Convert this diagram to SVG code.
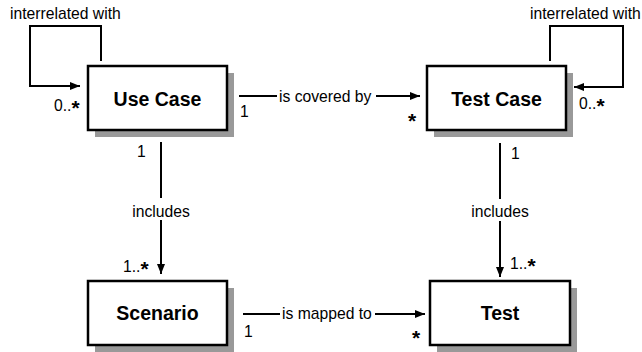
<svg xmlns="http://www.w3.org/2000/svg" width="642" height="352" viewBox="0 0 642 352">
<style>
.box{fill:#fff;stroke:#000;stroke-width:2.5}
.sh{fill:#999}
.nl{font-family:"Liberation Sans",Arial,sans-serif;font-weight:bold;font-size:19.5px;text-anchor:middle}
.lb{font-family:"Liberation Sans",Arial,sans-serif;font-size:15.7px}
.st{font-family:"Liberation Sans",Arial,sans-serif;font-size:21px;font-weight:bold}
.ln{fill:none;stroke:#000;stroke-width:2}
</style>
<defs>
<marker id="ah" markerWidth="10" markerHeight="8" refX="10" refY="4" orient="auto" markerUnits="userSpaceOnUse">
<path d="M0,0 L10,4 L0,8 z" fill="#000"/>
</marker>
</defs>
<rect width="642" height="352" fill="#fff"/>
<g id="usecase">
<rect class="sh" x="95" y="73" width="139" height="64"/>
<rect class="box" x="88" y="66" width="139" height="64"/>
<text class="nl" x="157.5" y="106">Use Case</text>
</g>
<g id="testcase">
<rect class="sh" x="434" y="73" width="139" height="64"/>
<rect class="box" x="427" y="66" width="139" height="64"/>
<text class="nl" x="496.5" y="106">Test Case</text>
</g>
<g id="scenario">
<rect class="sh" x="95" y="288" width="139" height="64"/>
<rect class="box" x="88" y="281" width="139" height="64"/>
<text class="nl" x="157.5" y="320">Scenario</text>
</g>
<g id="test">
<rect class="sh" x="437" y="288" width="140" height="64"/>
<rect class="box" x="430" y="281" width="140" height="64"/>
<text class="nl" x="500" y="320">Test</text>
</g>
<g id="connectors">
<polyline class="ln" points="101,61 101,26 30,26 30,86 80,86" marker-end="url(#ah)"/>
<text class="lb" x="10" y="19">interrelated with</text>
<text class="lb" x="54" y="111">0..<tspan class="st" dy="4">*</tspan></text>

<polyline class="ln" points="550,61 550,26 623,26 623,87 574,87" marker-end="url(#ah)"/>
<text class="lb" x="530" y="19">interrelated with</text>
<text class="lb" x="579" y="109">0..<tspan class="st" dy="4">*</tspan></text>

<line class="ln" x1="239" y1="96" x2="277" y2="96"/>
<text class="lb" x="279" y="102">is covered by</text>
<line class="ln" x1="376" y1="96" x2="420" y2="96" marker-end="url(#ah)"/>
<text class="lb" x="240" y="117">1</text>
<text class="st" x="408" y="128">*</text>

<line class="ln" x1="161" y1="142" x2="161" y2="198"/>
<text class="lb" x="161" y="217" text-anchor="middle">includes</text>
<line class="ln" x1="161" y1="220" x2="161" y2="274" marker-end="url(#ah)"/>
<text class="lb" x="137" y="157">1</text>
<text class="lb" x="123" y="272">1..<tspan class="st" dy="4">*</tspan></text>

<line class="ln" x1="500" y1="143" x2="500" y2="199"/>
<text class="lb" x="500" y="217" text-anchor="middle">includes</text>
<line class="ln" x1="500" y1="221" x2="500" y2="277" marker-end="url(#ah)"/>
<text class="lb" x="511" y="159">1</text>
<text class="lb" x="510" y="269">1..<tspan class="st" dy="4">*</tspan></text>

<line class="ln" x1="243" y1="314" x2="280" y2="314"/>
<text class="lb" x="282" y="319">is mapped to</text>
<line class="ln" x1="375" y1="314" x2="425" y2="314" marker-end="url(#ah)"/>
<text class="lb" x="244" y="337">1</text>
<text class="st" x="412" y="345">*</text>
</g>
</svg>
